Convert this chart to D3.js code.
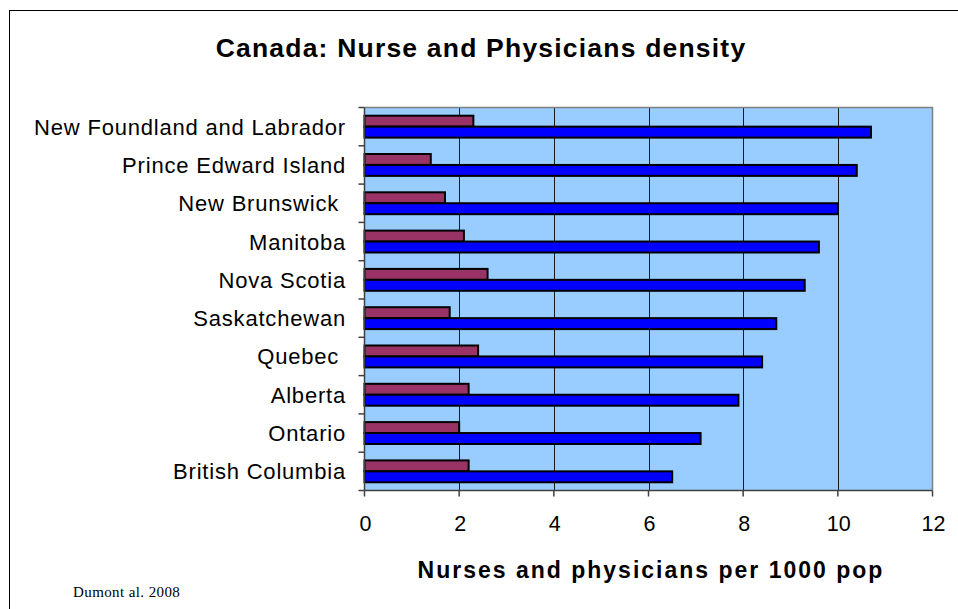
<!DOCTYPE html>
<html>
<head>
<meta charset="utf-8">
<script src="https://cdn.jsdelivr.net/npm/d3@7"></script>
<style>
html,body{margin:0;padding:0;background:#fff;}
svg{display:block;}
text{font-family:"Liberation Sans",Arial,sans-serif;}
</style>
</head>
<body>
<svg id="chart" width="958" height="609"></svg>
<script>
const categories = ["New Foundland and Labrador","Prince Edward Island","New Brunswick ","Manitoba","Nova Scotia","Saskatchewan","Quebec ","Alberta","Ontario","British Columbia"];
const physicians = [2.3,1.4,1.7,2.1,2.6,1.8,2.4,2.2,2.0,2.2];
const nurses = [10.7,10.4,10.0,9.6,9.3,8.7,8.4,7.9,7.1,6.5];
const seriesNames = ["physicians","nurses"];
const seriesColors = ["#993366","#0000FF"];
const xTicks = [0,2,4,6,8,10,12];
const title = "Canada: Nurse and Physicians density";
const xTitle = "Nurses and physicians per 1000 pop";
const source = "Dumont al. 2008";

const W = 958, H = 609;
const M = {left:364.5, right:932.5, top:107.5, bottom:490.5};
const svg = d3.select("#chart");

// outer frame
svg.append("rect").attr("x",9.5).attr("y",10.5).attr("width",W+20).attr("height",H+20)
  .attr("fill","#fff").attr("stroke","#000").attr("stroke-width",1);

const x = d3.scaleLinear().domain([0,12]).range([M.left,M.right]);
const y0 = d3.scaleBand().domain(categories).range([M.top,M.bottom]).padding(0);
const y1 = d3.scaleBand().domain(seriesNames).range([0,y0.bandwidth()]).paddingInner(0).paddingOuter(0.75);

// plot background
svg.append("rect").attr("x",M.left).attr("y",M.top).attr("width",M.right-M.left).attr("height",M.bottom-M.top)
  .attr("fill","#99CCFF");

// gridlines
svg.append("g").selectAll("line").data(xTicks.filter(d=>d>0 && d<12)).join("line")
  .attr("x1",d=>Math.round(x(d))+0.5).attr("x2",d=>Math.round(x(d))+0.5)
  .attr("y1",M.top).attr("y2",M.bottom)
  .attr("stroke","#1a1a1a").attr("stroke-width",1);

// plot border top/right
svg.append("path").attr("d",`M${M.left},${M.top}H${M.right}V${M.bottom}`)
  .attr("fill","none").attr("stroke","#808080").attr("stroke-width",1.5);

// bars
const data = categories.map((c,i)=>({cat:c, vals:[physicians[i], nurses[i]]}));
const groups = svg.append("g").selectAll("g").data(data).join("g")
  .attr("transform",d=>`translate(0,${y0(d.cat)})`);
groups.selectAll("rect").data(d=>d.vals.map((v,j)=>({s:seriesNames[j],v,j}))).join("rect")
  .attr("x",x(0)).attr("y",d=>y1(d.s))
  .attr("width",d=>x(d.v)-x(0)).attr("height",y1.bandwidth())
  .attr("fill",d=>seriesColors[d.j]).attr("stroke","#000").attr("stroke-width",2);

// y axis
const yAxis = svg.append("g");
yAxis.append("line").attr("x1",M.left).attr("x2",M.left).attr("y1",M.top).attr("y2",M.bottom)
  .attr("stroke","#404040").attr("stroke-width",1.5);
const bounds = categories.map(c=>y0(c)).concat([M.bottom]);
yAxis.selectAll("line.tk").data(bounds).join("line").attr("class","tk")
  .attr("x1",M.left-6).attr("x2",M.left).attr("y1",d=>d).attr("y2",d=>d)
  .attr("stroke","#404040").attr("stroke-width",1.5);
yAxis.selectAll("text").data(categories).join("text")
  .attr("x",346).attr("y",d=>y0(d)+y0.bandwidth()/2+8)
  .attr("text-anchor","end").attr("font-size",22).attr("letter-spacing","0.8px").attr("fill","#000")
  .style("white-space","pre").attr("xml:space","preserve")
  .text(d=>d);

// x axis
const xAxis = svg.append("g");
xAxis.append("line").attr("x1",M.left).attr("x2",M.right).attr("y1",M.bottom).attr("y2",M.bottom)
  .attr("stroke","#404040").attr("stroke-width",1.5);
xAxis.selectAll("line.tk").data(xTicks).join("line").attr("class","tk")
  .attr("x1",d=>x(d)).attr("x2",d=>x(d)).attr("y1",M.bottom).attr("y2",M.bottom+6)
  .attr("stroke","#404040").attr("stroke-width",1.5);
xAxis.selectAll("text").data(xTicks).join("text")
  .attr("x",d=>x(d)+1).attr("y",531)
  .attr("text-anchor","middle").attr("font-size",21.5).attr("fill","#000")
  .text(d=>d);

// titles
svg.append("text").attr("x",481).attr("y",57).attr("text-anchor","middle")
  .attr("font-size",26.5).attr("letter-spacing","1.2px").attr("font-weight","bold").text(title);
svg.append("text").attr("x",651).attr("y",578).attr("text-anchor","middle")
  .attr("font-size",23).attr("letter-spacing","2px").attr("font-weight","bold").text(xTitle);
svg.append("text").attr("x",73).attr("y",597)
  .style("font-family","'Liberation Serif','Times New Roman',serif")
  .attr("font-size",15).attr("letter-spacing","0.4px").text(source);
</script>
</body>
</html>
